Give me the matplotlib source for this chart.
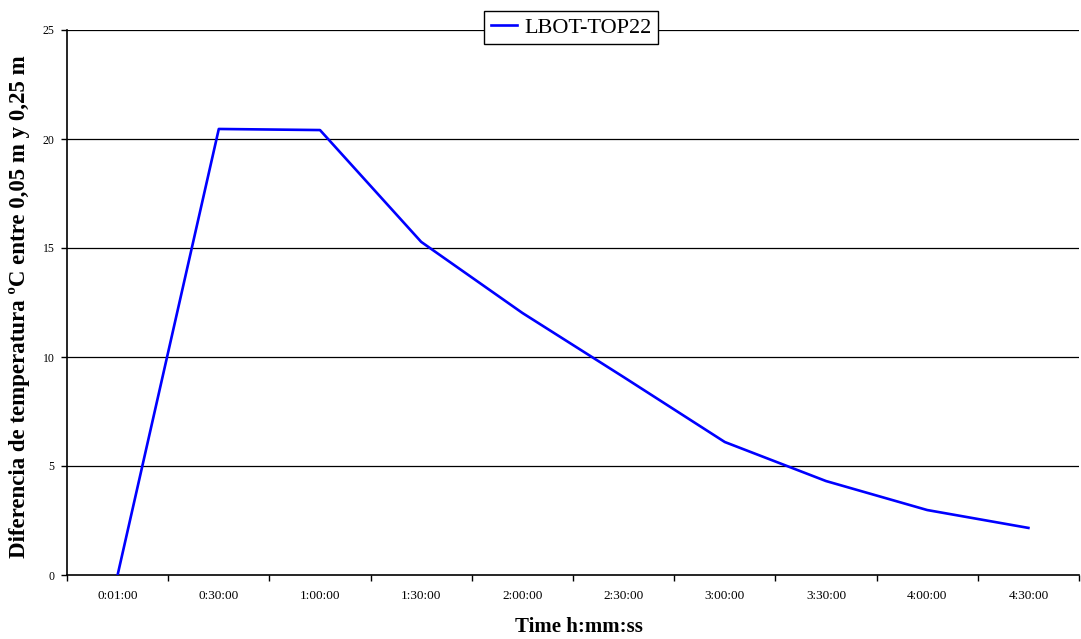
import matplotlib
matplotlib.use("Agg")
import matplotlib.pyplot as plt
from matplotlib.ticker import FixedLocator, NullFormatter

categories = ["0:01:00", "0:30:00", "1:00:00", "1:30:00", "2:00:00",
              "2:30:00", "3:00:00", "3:30:00", "4:00:00", "4:30:00"]
series_name = "LBOT-TOP22"
values = [0.0, 20.46, 20.41, 15.28, 12.02, 9.08, 6.10, 4.31, 2.98, 2.16]
y_ticks = [0, 5, 10, 15, 20, 25]

plt.rcParams['font.family'] = ['Liberation Serif', 'DejaVu Serif']

fig = plt.figure(figsize=(10.81, 6.39), dpi=100)
ax = fig.add_axes([67/1081, 64/639, 1012/1081, 545/639])

x = list(range(len(categories)))
ax.plot(x, values, color=(0, 0, 1), lw=1.9, label=series_name, zorder=3)

ax.set_xlim(-0.5, len(categories) - 0.5)
ax.set_ylim(0, 25)
ax.set_yticks(y_ticks)
ax.set_yticklabels([str(v) for v in y_ticks], fontsize=8.5)

ax.set_xticks(x)
ax.set_xticklabels(categories, fontsize=9.5)
ax.tick_params(axis='x', which='major', length=0, pad=11)
ax.xaxis.set_minor_locator(FixedLocator([i - 0.5 for i in range(len(categories) + 1)]))
ax.xaxis.set_minor_formatter(NullFormatter())
ax.tick_params(axis='x', which='minor', length=4, width=1, color='black')
ax.tick_params(axis='y', length=4, width=1, color='black', pad=5)

for v in y_ticks[1:]:
    ax.axhline(v, color='black', lw=0.9, zorder=1)

for s in ['top', 'right']:
    ax.spines[s].set_visible(False)
for s in ['left', 'bottom']:
    ax.spines[s].set_color('black')
    ax.spines[s].set_linewidth(1.2)

ax.set_ylabel("Diferencia de temperatura ºC entre 0,05 m y 0,25 m",
              fontsize=16.5, fontweight='bold')
ax.yaxis.set_label_coords(20/1081, (639 - 307)/639, transform=fig.transFigure)
ax.set_xlabel("Time h:mm:ss", fontsize=15, fontweight='bold')
ax.xaxis.set_label_coords(579/1081, 1 - 627/639, transform=fig.transFigure)
ax.xaxis.label.set_verticalalignment('center')
ax.yaxis.label.set_verticalalignment('center')

leg = ax.legend(loc='center', bbox_to_anchor=(571/1081, 1 - 27.5/639),
                bbox_transform=fig.transFigure, fontsize=16, frameon=True,
                fancybox=False, edgecolor='black', handlelength=1.2,
                handletextpad=0.3, borderpad=0.3, borderaxespad=0)
leg.get_frame().set_linewidth(1.0)
leg.get_frame().set_facecolor('white')
leg.get_frame().set_alpha(1)
leg.set_zorder(5)

fig.savefig("out.png", dpi=100)
